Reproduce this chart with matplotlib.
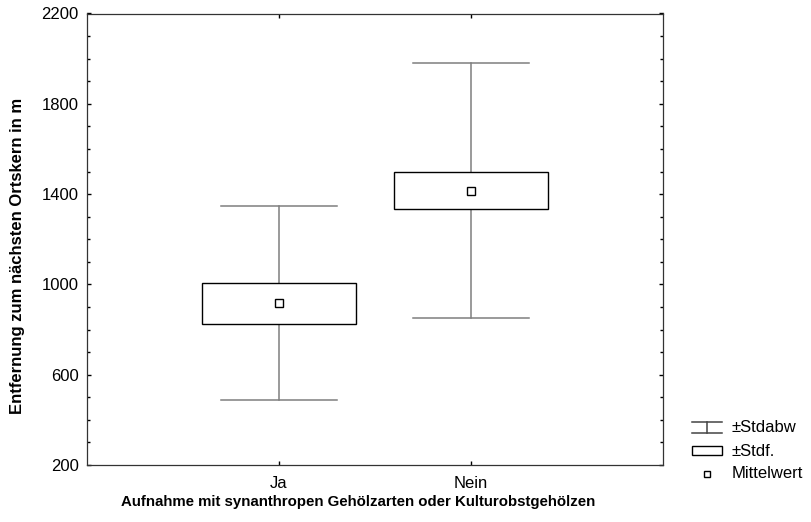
#!/usr/bin/env python3

import numpy as np
import matplotlib.pyplot as plt
from matplotlib.lines import Line2D
from matplotlib.patches import Rectangle
from matplotlib.ticker import MultipleLocator

plt.rcParams['font.family'] = ['Liberation Sans', 'DejaVu Sans']

groups = ["Ja", "Nein"]
means = [916, 1415]
std_err = [90, 82]
std_dev = [430, 565]

W, H = 811, 522


def px(x, y):
    # pixel position (from top-left) to figure fraction
    return x / W, 1 - y / H


def main():
    fig = plt.figure(figsize=(W / 100, H / 100), dpi=100)
    x0, y1 = px(87, 13.5)
    x1, y0 = px(663, 465)
    ax = fig.add_axes([x0, y0, x1 - x0, y1 - y0])

    pos = np.arange(1, len(groups) + 1)
    grey = "#7f7f7f"
    for p, m, se, sd in zip(pos, means, std_err, std_dev):
        # whiskers: mean +- standard deviation
        ax.plot([p, p], [m - sd, m - se], color=grey, lw=1.1, zorder=1)
        ax.plot([p, p], [m + se, m + sd], color=grey, lw=1.1, zorder=1)
        ax.plot([p - 0.3, p + 0.3], [m - sd, m - sd], color=grey, lw=1.1)
        ax.plot([p - 0.3, p + 0.3], [m + sd, m + sd], color=grey, lw=1.1)
        # box: mean +- standard error
        ax.add_patch(Rectangle((p - 0.4, m - se), 0.8, 2 * se, facecolor="white",
                               edgecolor="black", lw=1.0, zorder=2))
        ax.plot([p], [m], marker="s", ms=5.5, mfc="white", mec="black", mew=1.0,
                ls="none", zorder=3)

    ax.set_xlim(0, 3)
    ax.set_ylim(200, 2200)
    ax.set_xticks(pos)
    ax.set_xticklabels(groups)
    ax.set_yticks(np.arange(200, 2201, 400))
    ax.yaxis.set_minor_locator(MultipleLocator(100))
    ax.tick_params(axis="both", which="both", direction="in", top=True, right=True,
                   width=1.0, color="black")
    ax.tick_params(axis="both", which="major", length=3)
    ax.tick_params(axis="both", which="minor", length=2)
    ax.tick_params(axis="x", pad=8, labelsize=12)
    ax.tick_params(axis="y", pad=6, labelsize=12)
    for s in ax.spines.values():
        s.set_linewidth(0.9)
        s.set_color("#333333")

    fig.text(*px(18, 256), "Entfernung zum nächsten Ortskern in m", rotation=90,
             ha="center", va="center", fontsize=12, fontweight="bold")
    fig.text(*px(358, 502), "Aufnahme mit synanthropen Gehölzarten oder Kulturobstgehölzen",
             ha="center", va="center", fontsize=10.8, fontweight="bold")

    # legend drawn beside the plot area
    for yy in (422, 433):
        fig.add_artist(Line2D([px(692, 0)[0], px(722, 0)[0]], [px(0, yy)[1]] * 2,
                              color="#444444", lw=1.1))
    fig.add_artist(Line2D([px(707, 0)[0]] * 2, [px(0, 422)[1], px(0, 433)[1]],
                          color="#444444", lw=1.1))
    bx, by = px(692, 455)
    bx2, by2 = px(722, 446)
    fig.add_artist(Rectangle((bx, by), bx2 - bx, by2 - by, facecolor="white",
                             edgecolor="black", lw=1.0, transform=fig.transFigure))
    fig.add_artist(Line2D([px(707, 0)[0]], [px(0, 474)[1]], marker="s", ms=5,
                          mfc="white", mec="black", mew=1.0, ls="none"))
    for yy, lab in ((428, "±Stdabw"), (451, "±Stdf."), (474, "Mittelwert")):
        fig.text(*px(732, yy), lab, ha="left", va="center", fontsize=12)

    fig.savefig("out.png", dpi=100)


if __name__ == "__main__":
    main()
